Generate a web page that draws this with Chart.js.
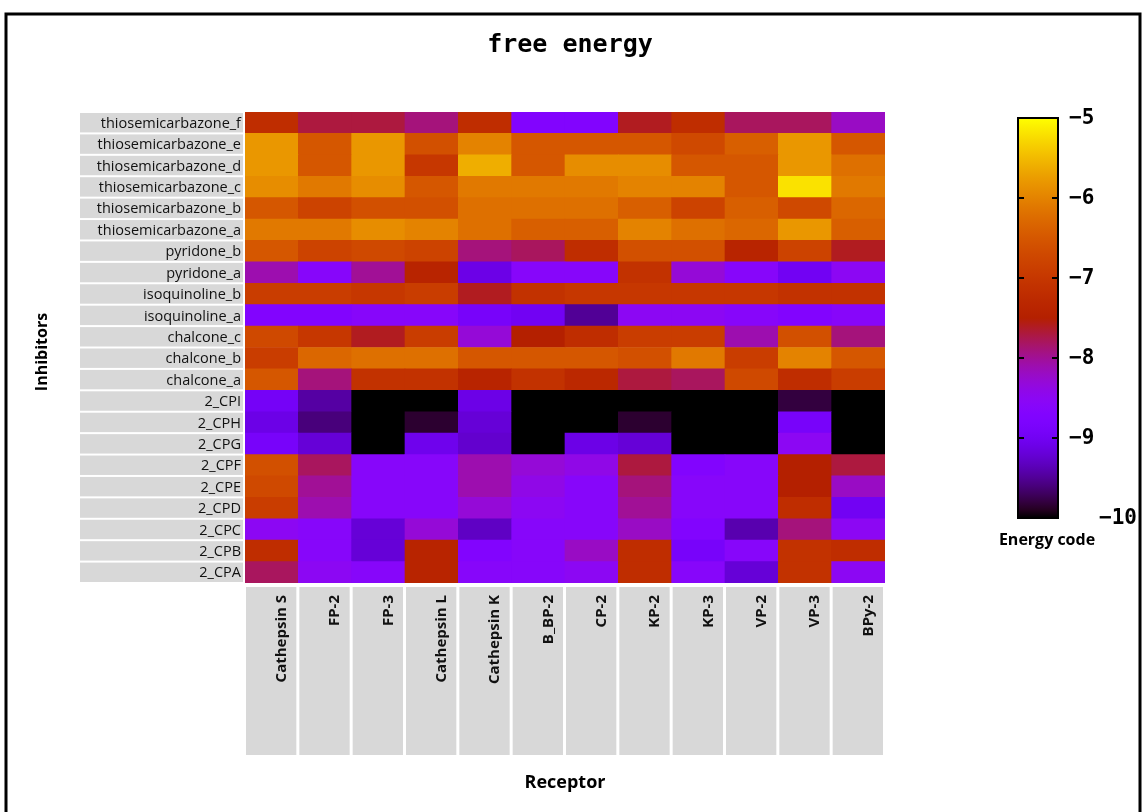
<!DOCTYPE html>
<html>
<head>
<meta charset="utf-8">
<title>free energy</title>
<script src="https://cdn.jsdelivr.net/npm/chart.js@4.4.1/dist/chart.umd.min.js"></script>
<style>
  html, body { margin: 0; padding: 0; background: #fff; }
  #quadro { position: relative; width: 1146px; height: 812px; background: #fff; }
</style>
</head>
<body>
<div id="quadro"><canvas id="grafico" width="1146" height="812"></canvas></div>
<script>
const receptores = ["Cathepsin S", "FP-2", "FP-3", "Cathepsin L", "Cathepsin K", "B_BP-2",
  "CP-2", "KP-2", "KP-3", "VP-2", "VP-3", "BPy-2"];

const inibidores = ["thiosemicarbazone_f", "thiosemicarbazone_e", "thiosemicarbazone_d",
  "thiosemicarbazone_c", "thiosemicarbazone_b", "thiosemicarbazone_a", "pyridone_b",
  "pyridone_a", "isoquinoline_b", "isoquinoline_a", "chalcone_c", "chalcone_b", "chalcone_a",
  "2_CPI", "2_CPH", "2_CPG", "2_CPF", "2_CPE", "2_CPD", "2_CPC", "2_CPB", "2_CPA"];

// energia livre (kcal/mol) de cada inibidor contra cada receptor, na ordem de "receptores"
const thiosemicarbazoneF = [-7.2, -7.7, -7.7, -7.9, -7.2, -8.7, -8.7, -7.6, -7.2, -7.8, -7.8, -8.2];
const thiosemicarbazoneE = [-5.8, -6.5, -5.8, -6.6, -6.0, -6.5, -6.5, -6.5, -6.7, -6.4, -5.8, -6.5];
const thiosemicarbazoneD = [-5.8, -6.5, -5.8, -7.0, -5.6, -6.5, -5.9, -5.9, -6.5, -6.5, -5.8, -6.2];
const thiosemicarbazoneC = [-5.9, -6.1, -5.9, -6.5, -6.1, -6.1, -6.1, -6.0, -6.0, -6.5, -5.2, -6.1];
const thiosemicarbazoneB = [-6.5, -6.8, -6.6, -6.6, -6.2, -6.2, -6.2, -6.4, -6.8, -6.4, -6.7, -6.3];
const thiosemicarbazoneA = [-6.1, -6.1, -5.9, -6.0, -6.2, -6.4, -6.4, -6.0, -6.2, -6.3, -5.8, -6.4];
const pyridoneB = [-6.5, -6.8, -6.7, -6.8, -7.9, -7.8, -7.2, -6.6, -6.6, -7.4, -6.8, -7.6];
const pyridoneA = [-8.1, -8.6, -8.0, -7.4, -9.1, -8.6, -8.6, -7.1, -8.3, -8.6, -9.0, -8.5];
const isoquinolineB = [-6.9, -6.9, -7.0, -6.9, -7.6, -7.1, -7.0, -7.0, -7.0, -7.0, -7.1, -7.1];
const isoquinolineA = [-8.7, -8.7, -8.6, -8.6, -8.9, -9.0, -9.5, -8.5, -8.5, -8.6, -8.7, -8.6];
const chalconeC = [-6.7, -7.0, -7.6, -6.9, -8.3, -7.5, -7.2, -6.9, -6.9, -8.1, -6.6, -7.9];
const chalconeB = [-6.9, -6.3, -6.2, -6.2, -6.5, -6.5, -6.5, -6.6, -6.1, -6.9, -6.0, -6.5];
const chalconeA = [-6.5, -7.9, -7.1, -7.1, -7.4, -7.1, -7.3, -7.7, -7.8, -6.7, -7.2, -6.9];
const cpI = [-8.95, -9.45, -10.0, -10.0, -9.1, -10.0, -10.0, -10.0, -10.0, -10.0, -9.8, -10.0];
const cpH = [-9.1, -9.6, -10.0, -9.85, -9.2, -10.0, -10.0, -9.85, -10.0, -10.0, -8.9, -10.0];
const cpG = [-8.9, -9.2, -10.0, -9.05, -9.25, -10.0, -9.1, -9.2, -10.0, -10.0, -8.5, -10.0];
const cpF = [-6.6, -7.8, -8.6, -8.6, -8.1, -8.3, -8.4, -7.7, -8.7, -8.6, -7.5, -7.7];
const cpE = [-6.7, -8.0, -8.6, -8.6, -8.1, -8.4, -8.6, -7.9, -8.6, -8.6, -7.5, -8.2];
const cpD = [-6.9, -8.1, -8.6, -8.6, -8.3, -8.5, -8.6, -8.0, -8.6, -8.6, -7.2, -9.0];
const cpC = [-8.5, -8.6, -9.2, -8.3, -9.3, -8.6, -8.6, -8.2, -8.7, -9.4, -7.9, -8.5];
const cpB = [-7.2, -8.6, -9.2, -7.4, -8.7, -8.6, -8.2, -7.2, -8.9, -8.6, -7.1, -7.2];
const cpA = [-7.8, -8.5, -8.6, -7.4, -8.6, -8.6, -8.5, -7.2, -8.6, -9.2, -7.1, -8.5];

const linhas = [thiosemicarbazoneF, thiosemicarbazoneE, thiosemicarbazoneD, thiosemicarbazoneC,
  thiosemicarbazoneB, thiosemicarbazoneA, pyridoneB, pyridoneA, isoquinolineB, isoquinolineA,
  chalconeC, chalconeB, chalconeA, cpI, cpH, cpG, cpF, cpE, cpD, cpC, cpB, cpA];

const ticksEnergia = [-5, -6, -7, -8, -9, -10];
const energiaMin = -10;
const energiaMax = -5;

// paleta preto -> azul -> roxo -> vermelho -> laranja -> amarelo
function corEnergia(valor) {
  const x = Math.min(1, Math.max(0, (valor - energiaMin) / (energiaMax - energiaMin)));
  const r = Math.sqrt(x);
  const g = x * x * x;
  const b = Math.max(0, Math.sin(2 * Math.PI * x));
  return `rgb(${Math.round(r * 255)}, ${Math.round(g * 255)}, ${Math.round(b * 255)})`;
}

// cada celula ocupa uma unidade da pilha; a linha de baixo entra primeiro
const datasets = inibidores.map((nome, i) => ({
  label: nome,
  data: linhas[i].map(() => 1),
  backgroundColor: linhas[i].map(corEnergia),
  borderWidth: 0,
  categoryPercentage: 1,
  barPercentage: 1
})).reverse();

const cinzaRotulo = "#d8d8d8";
const fonteRotulo = '"Open Sans", "DejaVu Sans", sans-serif';

const desenhoExtra = {
  id: "desenhoExtra",
  beforeDatasetsDraw(chart) {
    const { ctx, chartArea, scales: { x, y } } = chart;
    ctx.save();

    // caixas dos inibidores
    ctx.font = `14.5px ${fonteRotulo}`;
    ctx.textAlign = "right";
    ctx.textBaseline = "middle";
    inibidores.forEach((nome, k) => {
      const topo = y.getPixelForValue(inibidores.length - k);
      const base = y.getPixelForValue(inibidores.length - k - 1);
      ctx.fillStyle = cinzaRotulo;
      ctx.fillRect(80, topo + 1, chartArea.left - 82, base - topo - 2);
      ctx.fillStyle = "#111";
      ctx.fillText(nome, chartArea.left - 4, (topo + base) / 2 + 1);
    });

    // caixas dos receptores
    const largura = (chartArea.right - chartArea.left) / receptores.length;
    const fimCaixa = 755;
    ctx.font = `bold 15px ${fonteRotulo}`;
    receptores.forEach((nome, j) => {
      const centro = x.getPixelForValue(j);
      ctx.fillStyle = cinzaRotulo;
      ctx.fillRect(centro - largura / 2 + 1, chartArea.bottom + 4, largura - 3, fimCaixa - chartArea.bottom - 4);
      ctx.save();
      ctx.translate(centro + 10, chartArea.bottom + 12);
      ctx.rotate(-Math.PI / 2);
      ctx.fillStyle = "#111";
      ctx.textAlign = "right";
      ctx.textBaseline = "middle";
      ctx.fillText(nome, 0, 0);
      ctx.restore();
    });

    ctx.restore();
  },
  afterDraw(chart) {
    const { ctx, chartArea } = chart;
    ctx.save();

    // titulo
    ctx.fillStyle = "#000";
    ctx.font = 'bold 25px "DejaVu Sans Mono", monospace';
    ctx.textAlign = "center";
    ctx.textBaseline = "middle";
    ctx.fillText("free energy", 570, 45);

    // titulos dos eixos
    ctx.font = `bold 18px ${fonteRotulo}`;
    ctx.fillText("Receptor", (chartArea.left + chartArea.right) / 2, 783);
    ctx.font = `bold 16px ${fonteRotulo}`;
    ctx.save();
    ctx.translate(42, 352);
    ctx.rotate(-Math.PI / 2);
    ctx.fillText("Inhibitors", 0, 0);
    ctx.restore();

    // barra de cores
    const barra = { esquerda: 1018, direita: 1058, topo: 118, base: 518 };
    const gradiente = ctx.createLinearGradient(0, barra.base, 0, barra.topo);
    for (let p = 0; p <= 50; p++) {
      gradiente.addColorStop(p / 50, corEnergia(energiaMin + (energiaMax - energiaMin) * p / 50));
    }
    ctx.fillStyle = gradiente;
    ctx.fillRect(barra.esquerda, barra.topo, barra.direita - barra.esquerda, barra.base - barra.topo);
    ctx.strokeStyle = "#000";
    ctx.lineWidth = 2;
    ctx.strokeRect(barra.esquerda, barra.topo, barra.direita - barra.esquerda, barra.base - barra.topo);

    ctx.font = 'bold 21px "DejaVu Sans Mono", monospace';
    ctx.textAlign = "left";
    ticksEnergia.forEach(valor => {
      const yTick = barra.base - (valor - energiaMin) / (energiaMax - energiaMin) * (barra.base - barra.topo);
      if (valor !== energiaMin && valor !== energiaMax) {
        ctx.beginPath();
        ctx.moveTo(barra.esquerda, yTick);
        ctx.lineTo(barra.esquerda + 6, yTick);
        ctx.moveTo(barra.direita - 6, yTick);
        ctx.lineTo(barra.direita, yTick);
        ctx.stroke();
      }
      ctx.fillStyle = "#000";
      const xTexto = valor === energiaMin ? 1099 : 1069;
      ctx.fillText(String(valor).replace("-", "\u2212"), xTexto, yTick + 1);
    });

    ctx.font = `bold 16px ${fonteRotulo}`;
    ctx.textAlign = "center";
    ctx.fillText("Energy code", 1047, 540);

    // moldura
    ctx.strokeStyle = "#000";
    ctx.lineWidth = 3;
    ctx.strokeRect(6, 14, 1134, 810);

    ctx.restore();
  }
};

new Chart(document.getElementById("grafico"), {
  type: "bar",
  data: { labels: receptores, datasets },
  options: {
    responsive: false,
    animation: false,
    events: [],
    layout: { padding: { left: 245, top: 112, right: 1146 - 885, bottom: 812 - 583 } },
    scales: {
      x: { type: "category", stacked: true, display: false, grid: { display: false } },
      y: { type: "linear", stacked: true, min: 0, max: inibidores.length, display: false }
    },
    plugins: {
      legend: { display: false },
      tooltip: { enabled: false },
      title: { display: false }
    }
  },
  plugins: [desenhoExtra]
});
</script>
</body>
</html>
